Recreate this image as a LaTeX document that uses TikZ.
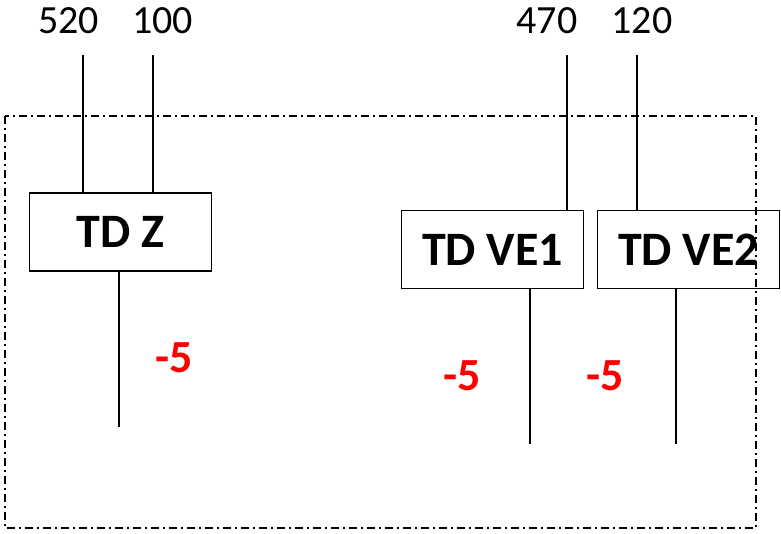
\documentclass[tikz,border=0pt]{standalone}
\usepackage{fontspec}
\setmainfont{Carlito}
\usepackage{tikz}

\begin{document}
\begin{tikzpicture}[x=1pt, y=-1pt, line width=1.5pt,
	tdbox/.style={draw, minimum width=182pt, minimum height=78pt, inner sep=0pt, font=\fontsize{48}{48}\bfseries\selectfont},
	flow/.style={font=\fontsize{40}{40}\selectfont, inner sep=0pt},
	loss/.style={font=\fontsize{46}{46}\bfseries\selectfont, text=red, inner sep=0pt}]
	\useasboundingbox (0,0) rectangle (781,533);
	%\draw[help lines] (0,0) grid (781,533);
	\draw[dash pattern=on 8pt off 4pt on 2pt off 4pt, line width=1.3pt] (5,116) rectangle (756,528);

	\node[tdbox] (tdz) at (120.5,232) {TD Z};
	\node[tdbox] (tdve1) at (492.5,249.5) {TD VE1};
	\node[tdbox] (tdve2) at (688.5,249.5) {TD VE2};

	\foreach \x/\lx/\val/\tgt in {83/68.5/520/tdz, 153/162.5/100/tdz, 567/547/470/tdve1, 637/642/120/tdve2} {
		\node[flow] (in\val) at (\lx,21) {\val};
		\coordinate (top\val) at (\x,55);
		\draw (top\val) -- (top\val |- \tgt.north);
	}

	\coordinate (outz) at (119,427);
	\coordinate (outve1) at (530,444);
	\coordinate (outve2) at (676,444);
	\draw (outz |- tdz.south) -- (outz);
	\draw (outve1 |- tdve1.south) -- (outve1);
	\draw (outve2 |- tdve2.south) -- (outve2);

	\node[loss] (lossz) at (174,358) {-5};
	\node[loss] (lossve1) at (462,376) {-5};
	\node[loss] (lossve2) at (605,376) {-5};
\end{tikzpicture}
\end{document}
